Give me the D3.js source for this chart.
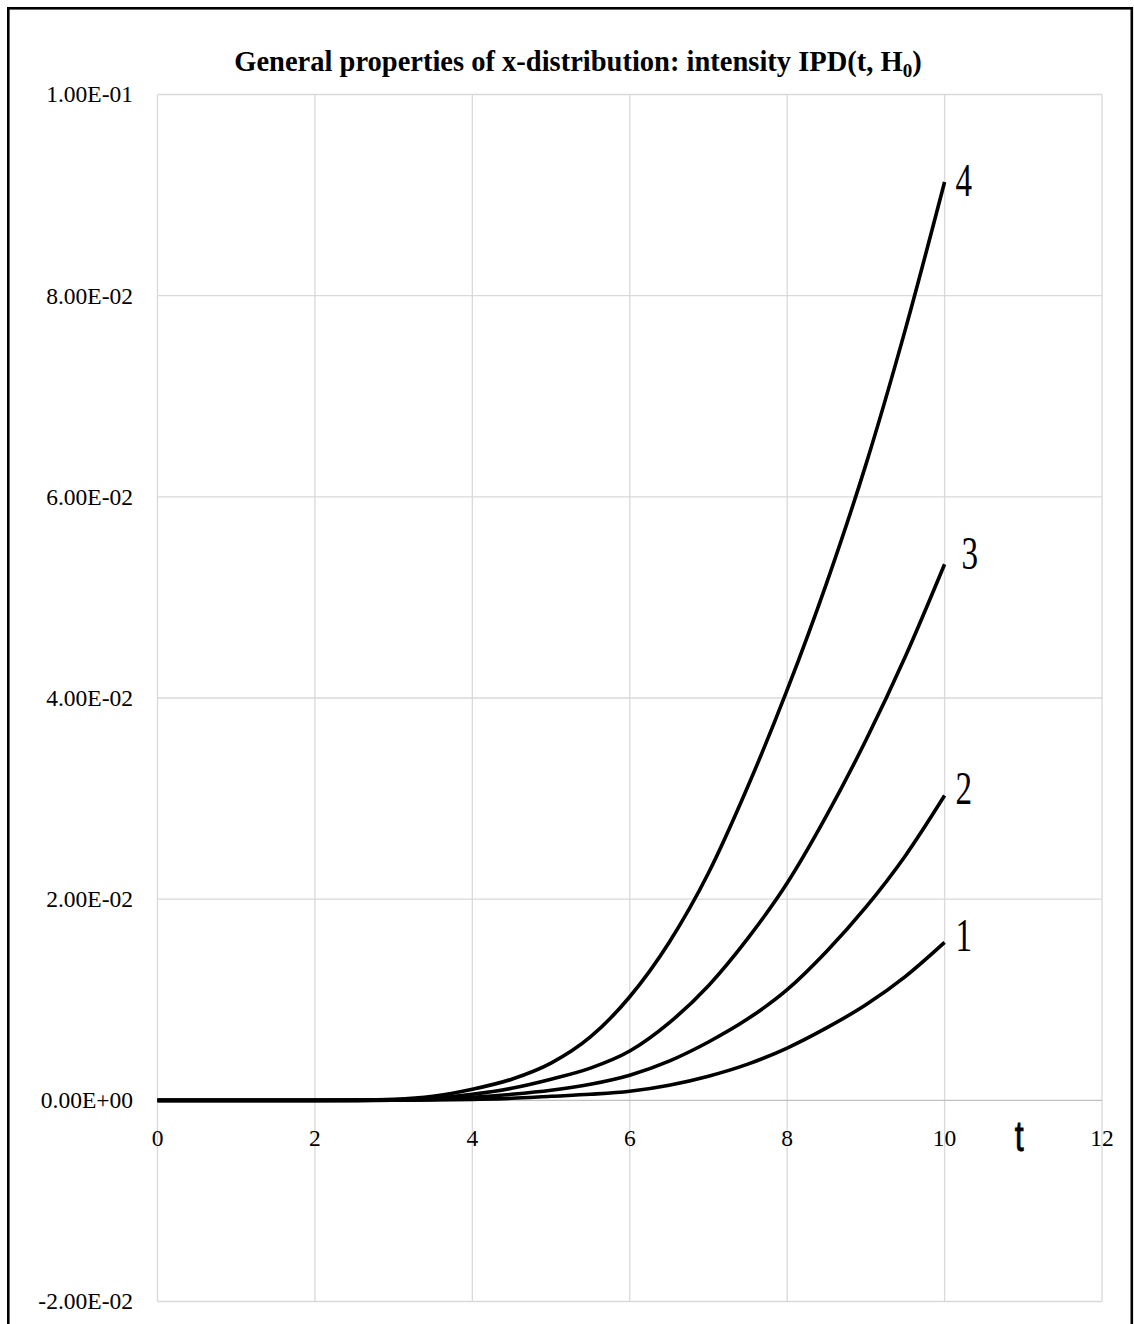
<!DOCTYPE html>
<html>
<head>
<meta charset="utf-8">
<script src="https://cdn.jsdelivr.net/npm/d3@7"></script>
<style>
  body { margin: 0; background: #fff; }
  svg { display: block; }
</style>
</head>
<body>
<svg id="chart" width="1134" height="1324"></svg>
<script>
// Time grid shared by all four intensity curves
const tValues = [0, 1, 2, 2.5, 3, 3.5, 4, 4.5, 5, 5.5, 6, 6.5, 7, 7.5, 8, 8.5, 9, 9.5, 10];

// IPD(t, H0) for the four parameter sets
const ipd1 = [0, 0, 0, 0, 0.00001, 0.00003, 0.0001, 0.0002, 0.0004, 0.0006, 0.0009, 0.0015, 0.0024, 0.0036, 0.0052, 0.0072, 0.0095, 0.0123, 0.0157];
const ipd2 = [0, 0, 0, 0, 0.00002, 0.0001, 0.0003, 0.0006, 0.0010, 0.0016, 0.0025, 0.0039, 0.0058, 0.0081, 0.0110, 0.0148, 0.0192, 0.0243, 0.0303];
const ipd3 = [0, 0, 0, 0, 0.00003, 0.0002, 0.0006, 0.0012, 0.0021, 0.0032, 0.0049, 0.0077, 0.0114, 0.0161, 0.0216, 0.0283, 0.0358, 0.0441, 0.0533];
const ipd4 = [0, 0, 0, 0.00002, 0.0001, 0.0004, 0.0011, 0.0021, 0.0037, 0.0063, 0.0103, 0.0157, 0.0226, 0.0312, 0.0408, 0.0514, 0.0632, 0.0766, 0.0913];

const seriesLabels = ["1", "2", "3", "4"];

const xTicks = [0, 2, 4, 6, 8, 10, 12];
const xTickLabels = ["0", "2", "4", "6", "8", "10", "12"];
const yTicks = [-0.02, 0, 0.02, 0.04, 0.06, 0.08, 0.1];
const yTickLabels = ["-2.00E-02", "0.00E+00", "2.00E-02", "4.00E-02", "6.00E-02", "8.00E-02", "1.00E-01"];

const titleMain = "General properties of x-distribution: intensity IPD(t, H";
const titleSub = "0";
const titleEnd = ")";
const axisName = "t";

// ---- layout ----
const svg = d3.select("#chart");
const plot = { left: 157.5, right: 1102, top: 94.5, bottom: 1301.5 };

const x = d3.scaleLinear().domain([0, 12]).range([plot.left, plot.right]);
const y = d3.scaleLinear().domain([-0.02, 0.1]).range([plot.bottom, plot.top]);

const serif = "'Liberation Serif', 'Times New Roman', serif";

// outer frame
svg.append("rect")
  .attr("x", 8.3).attr("y", 8.3)
  .attr("width", 1123.5).attr("height", 1340)
  .attr("fill", "none").attr("stroke", "#000").attr("stroke-width", 2.6);

// gridlines
const grid = svg.append("g").attr("stroke", "#d9d9d9").attr("stroke-width", 1.3);
grid.selectAll("line.v").data(xTicks).join("line")
  .attr("class", "v")
  .attr("x1", d => x(d)).attr("x2", d => x(d))
  .attr("y1", y(0.1)).attr("y2", y(-0.02));
grid.selectAll("line.h").data(yTicks.filter(d => d !== 0)).join("line")
  .attr("class", "h")
  .attr("x1", x(0)).attr("x2", x(12))
  .attr("y1", d => y(d)).attr("y2", d => y(d));

// horizontal axis through zero
svg.append("line")
  .attr("x1", x(0)).attr("x2", x(12))
  .attr("y1", y(0)).attr("y2", y(0))
  .attr("stroke", "#bfbfbf").attr("stroke-width", 1.4);

// y tick labels
svg.append("g").selectAll("text").data(yTicks).join("text")
  .attr("x", 133)
  .attr("y", d => y(d))
  .attr("dy", "0.34em")
  .attr("text-anchor", "end")
  .attr("font-family", serif)
  .attr("font-size", 23.5)
  .attr("fill", "#000")
  .text((d, i) => yTickLabels[i]);

// x tick labels, hung below the zero line
svg.append("g").selectAll("text").data(xTicks).join("text")
  .attr("x", d => x(d))
  .attr("y", y(0) + 46)
  .attr("text-anchor", "middle")
  .attr("font-family", serif)
  .attr("font-size", 23.5)
  .attr("fill", "#000")
  .text((d, i) => xTickLabels[i]);

// axis name "t"
svg.append("text")
  .attr("transform", `translate(${x(10.95)},${y(0) + 51}) scale(0.75,1)`)
  .attr("text-anchor", "middle")
  .attr("font-family", "'Liberation Sans', Arial, sans-serif")
  .attr("font-size", 43)
  .attr("stroke", "#000")
  .attr("stroke-width", 0.8)
  .attr("fill", "#000")
  .text(axisName);

// title
const title = svg.append("text")
  .attr("x", 578).attr("y", 71)
  .attr("text-anchor", "middle")
  .attr("font-family", serif)
  .attr("font-weight", "bold")
  .attr("font-size", 28.5)
  .attr("fill", "#000");
title.append("tspan").text(titleMain);
title.append("tspan").attr("font-size", 19).attr("dy", 6).text(titleSub);
title.append("tspan").attr("dy", -6).text(titleEnd);

// curves
const series = [ipd1, ipd2, ipd3, ipd4].map((vals, i) => ({
  name: seriesLabels[i],
  points: tValues.map((t, j) => ({ t, v: vals[j] }))
}));

const line = d3.line()
  .x(d => x(d.t))
  .y(d => y(d.v))
  .curve(d3.curveMonotoneX);

svg.append("g").selectAll("path").data(series).join("path")
  .attr("d", d => line(d.points))
  .attr("fill", "none")
  .attr("stroke", "#000")
  .attr("stroke-width", 3.6)
  .attr("stroke-linejoin", "round");

// curve numbers at the right-hand ends
const labelShift = { "1": [11, 9], "2": [11, 8], "3": [17, 5], "4": [11, 14] };
svg.append("g").selectAll("text").data(series).join("text")
  .attr("transform", d => {
    const last = d.points[d.points.length - 1];
    const [dx, dy] = labelShift[d.name];
    return `translate(${x(last.t) + dx},${y(last.v) + dy}) scale(0.72,1)`;
  })
  .attr("font-family", serif)
  .attr("font-size", 46)
  .attr("fill", "#000")
  .text(d => d.name);
</script>
</body>
</html>
